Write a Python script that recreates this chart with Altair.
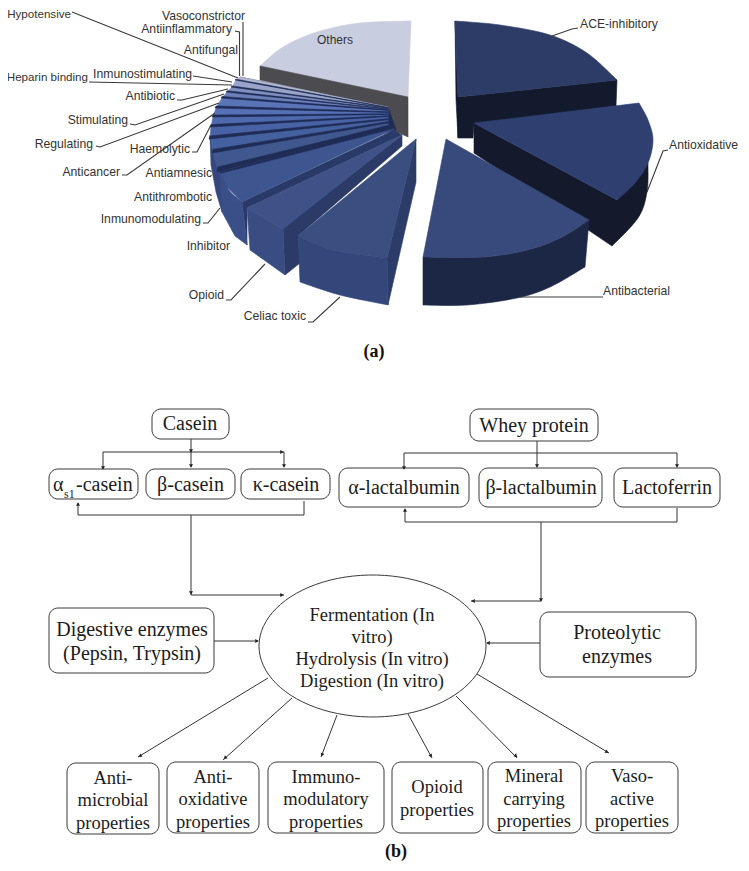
import altair as alt
import numpy as np
import pandas as pd

INK = "#2e2e2e"
SANS = "Liberation Sans"
SERIF = "Liberation Serif"


def curve(*pts, n=8):
    """Smooth a hand-read outline through its points."""
    p = [pts[0]] + list(pts) + [pts[-1]]
    out = []
    for i in range(1, len(p) - 2):
        a, b, c, d = map(np.array, p[i - 1:i + 3])
        for t in np.linspace(0, 1, n, endpoint=False):
            out.append(tuple(0.5 * ((2 * b) + (c - a) * t + (2 * a - 5 * b + 4 * c - d) * t**2 + (3 * b - a - 3 * c + d) * t**3)))
    out.append(pts[-1])
    return out


# ---- pie faces (outline, colour) ----
fan_outer = [(240, 77), (236, 80), (232, 87), (227, 92), (222, 98), (216, 108), (213, 117), (211, 127), (210, 139), (213, 153), (218, 172)]
fan_apex = [107, 107.5, 108, 109, 110, 112, 114, 116, 119, 122, 126]
fan_colors = ["#b3b8cf", "#9aa4c8", "#7f8fc0", "#6b80bb", "#5a74b8", "#5670b6", "#4f69ae", "#4962a6", "#45609f", "#41588f"]
sep_width = [0, 0.8, 1, 1.2, 1.6, 2, 2, 2.4, 3, 3.6, 5]

faces = []
# Others
faces.append((curve((260, 66), (283, 47), (317, 32), (360, 23), (411, 21)) + [(408, 97)], "#c9cde0"))
faces.append(([(260, 66), (408, 97), (408, 137), (391, 129), (388, 108), (260, 80)], "#4b4b50"))
# left wall of the fan
faces.append(([(210, 135), (213, 153), (222, 172), (222, 212), (216, 192), (211, 165)], "#34487f"))
# dark base under the fan
faces.append(([(240, 77), (388, 107), (396, 130), (222, 178), (213, 153), (210, 139)], "#1f2c55"))
# fan wedges
for i in range(len(fan_colors)):
    faces.append(([fan_outer[i], fan_outer[i + 1], (388, fan_apex[i + 1]), (388, fan_apex[i])], fan_colors[i]))
for i in range(1, len(fan_outer)):
    x, y = fan_outer[i]
    w = sep_width[i]
    faces.append(([(x, y - w), (x - 1, y), (388, fan_apex[i] + w * 0.25), (388, fan_apex[i] - w * 0.1)], "#1f2c55"))
# Inhibitor
faces.append(([(242, 202), (394, 130), (402, 135), (247, 208), (247, 245)], "#2a3a68"))
faces.append(([(394, 129), (220, 174), (226, 186), (242, 202)], "#3f5590"))
faces.append((curve((220, 173), (229, 190), (242, 202)) + [(247, 245)] + curve((235, 236), (222, 212)), "#3a4e87"))
# Opioid
faces.append(([(283, 228), (402, 135), (402, 146), (298, 236), (300, 263), (285, 275)], "#2b3a66"))
faces.append(([(402, 135), (247, 208), (283, 229)], "#3e5288"))
faces.append(([(247, 208), (283, 229), (285, 275), (250, 250)], "#3a4d82"))
# Celiac toxic
faces.append(([(387, 258), (416, 139), (416, 182), (388, 305)], "#2c3c68"))
faces.append(([(416, 139), (298, 236)] + curve((298, 236), (333, 250), (387, 258)), "#3a4e80"))
faces.append((curve((298, 236), (333, 250), (387, 258)) + [(388, 305)] + curve((388, 305), (340, 295), (300, 282)), "#34477a"))
# ACE-inhibitory
faces.append(([(455, 21), (458, 97), (458, 138), (456, 100)], "#141a2e"))
faces.append(([(458, 97), (617, 80), (616, 106), (474, 124), (473, 138), (458, 138)], "#131a2e"))
faces.append((curve((455, 21), (500, 25), (550, 35), (587, 53), (617, 80)) + [(458, 97)], "#2d3c66"))
# Antioxidative
faces.append(([(474, 123), (617, 200)] + curve((648, 163), (647, 192), (638, 218), (612, 246)) + [(474, 153)], "#141a2b"))
faces.append(([(474, 123)] + curve((639, 103), (648, 120), (653, 140), (648, 163), (635, 183), (617, 200)), "#2f4070"))
# Antibacterial
faces.append((curve((423, 257), (483, 257), (527, 250), (560, 238), (589, 220)) + curve((585, 267), (550, 287), (517, 298), (467, 305), (423, 305)), "#1c2745"))
faces.append(([(446, 139)] + curve((589, 220), (560, 238), (527, 250), (483, 257), (423, 257)), "#374a7b"))

faces_rows = []
for fid, (pts, col) in enumerate(faces):
    for i, (x, y) in enumerate(pts):
        faces_rows.append({"x": x, "y": y, "i": i, "face": fid, "c": col})
faces_df = pd.DataFrame(faces_rows)

# ---- pie leader lines ----
leaders = [
    [(72, 12), (77, 14), (238, 78)],
    [(243, 22), (243, 76)],
    [(235, 31), (239.5, 32), (239.5, 76)],
    [(89, 82), (232, 85)],
    [(193, 76), (232, 82)],
    [(177, 100), (182, 100), (228, 89)],
    [(130, 124), (135, 125), (224, 94)],
    [(96, 146), (100, 147), (219, 103)],
    [(122, 175), (127, 175), (215, 113)],
    [(192, 152), (197, 152), (211, 125)],
    [(203, 223), (208, 223), (220, 208)],
    [(226, 300), (231, 300), (265, 264)],
    [(308, 322), (313, 322), (340, 297)],
    [(603, 297), (520, 297)],
    [(668, 150), (663, 151), (647, 192)],
    [(578, 28), (572, 29), (552, 36)],
]

# ---- pie labels ----
edge_labels = ["Hypotensive", "Heparin binding"]
edge_labels_x = [71, 88]
edge_labels_y = [15, 78]
labels_right = ["Vasoconstrictor", "Antiinflammatory", "Antifungal",
                "Inmunostimulating", "Antibiotic", "Stimulating", "Regulating", "Haemolytic", "Anticancer",
                "Antiamnesic", "Antithrombotic", "Inmunomodulating", "Inhibitor", "Opioid", "Celiac toxic"]
labels_right_x = [245, 232, 238, 192, 175, 128, 93, 190, 120, 212, 212, 201, 230, 224, 306]
labels_right_y = [16, 29, 50, 74, 96, 120, 144, 149, 172, 173, 197, 219, 246, 295, 316]
labels_left = ["ACE-inhibitory", "Antioxidative", "Antibacterial"]
labels_left_x = [580, 669, 603]
labels_left_y = [24, 145, 291]

# ---- flow diagram ----
box_x = [152, 49, 146, 241, 470, 339, 479, 614, 49, 540, 67, 167, 268, 392, 488, 586]
box_x2 = [229, 138, 235, 330, 598, 469, 602, 720, 214, 696, 159, 259, 384, 483, 581, 678]
box_y = [409, 469, 469, 469, 409, 468, 468, 468, 608, 612, 763, 762, 762, 762, 762, 762]
box_y2 = [439, 499, 499, 499, 441, 507, 507, 507, 673, 677, 834, 833, 833, 833, 833, 833]

big_text = ["Casein", "\u03b2-casein", "\u03ba-casein", "Whey protein", "\u03b1-lactalbumin", "\u03b2-lactalbumin", "Lactoferrin",
            "Digestive enzymes", "(Pepsin, Trypsin)", "Proteolytic", "enzymes"]
big_x = [190, 190.5, 286, 534, 404, 541, 667, 132, 132, 617, 617]
big_y = [424, 485, 485, 426, 488, 488, 488, 630, 654, 633, 657]

small_text = ["Fermentation (In", "vitro)", "Hydrolysis (In vitro)", "Digestion (In vitro)",
              "Anti-", "microbial", "properties", "Anti-", "oxidative", "properties",
              "Immuno-", "modulatory", "properties", "Opioid", "properties",
              "Mineral", "carrying", "properties", "Vaso-", "active", "properties"]
small_x = [372, 372, 372, 372, 113, 113, 113, 213, 213, 213, 326, 326, 326, 437, 437, 534, 534, 534, 632, 632, 632]
small_y = [615, 637, 659, 681, 778, 800, 823, 777, 799, 822, 777, 799, 822, 787, 810, 776, 799, 821, 776, 799, 821]

flow_lines = [
    [(191, 439), (191, 467)], [(103, 469), (103, 452), (284, 452), (284, 467)],
    [(304, 501), (304, 515), (78, 515), (78, 503)], [(191, 515), (191, 595), (284, 595)],
    [(537, 441), (537, 467)], [(404, 469), (404, 453), (677, 453), (677, 467)],
    [(677, 508), (677, 522), (405, 522), (405, 509)], [(541, 522), (541, 601), (471, 601)],
    [(214, 641), (258, 641)], [(540, 643), (487, 643)],
    [(268, 678), (138, 757)], [(292, 698), (223, 760)], [(337, 715), (321, 757)],
    [(408, 714), (432, 758)], [(456, 696), (517, 758)], [(477, 674), (609, 753)],
]
# arrow heads: x, y, heading in degrees clockwise from up
head_x = [191, 191, 103, 284, 282, 78, 191, 282, 537, 404, 677, 405, 541, 473, 257, 488, 140, 225, 322, 431, 516, 607]
head_y = [451, 466, 468, 466, 452, 504, 593, 595, 466, 468, 466, 510, 600, 601, 641, 643, 756, 758, 755, 756, 756, 752]
head_a = [180, 180, 180, 180, 90, 0, 180, 90, 180, 180, 180, 0, 180, 270, 90, 270, 239, 228, 201, 151, 135, 121]

# ellipse outline
t = np.linspace(0, 2 * np.pi, 90, endpoint=False)
ell_df = pd.DataFrame({"x": 372.5 + 113.5 * np.cos(t), "y": 646 + 71 * np.sin(t), "i": np.arange(90)})


def lines_df(lines):
    return pd.DataFrame([{"x": x, "y": y, "i": i, "k": k} for k, ln in enumerate(lines) for i, (x, y) in enumerate(ln)])


X = alt.X("x:Q", scale=alt.Scale(domain=[8, 741], nice=False, zero=False), axis=None)
Y = alt.Y("y:Q", scale=alt.Scale(domain=[863, 8], nice=False, zero=False), axis=None)

poly = alt.Chart(faces_df).mark_line(interpolate="linear-closed", strokeWidth=0.6, clip=True).encode(
    x=X, y=Y, order="i:Q", detail="face:N",
    fill=alt.Fill("c:N", scale=None), stroke=alt.Stroke("c:N", scale=None))


def stroke_layer(lines, color=INK, width=1.0):
    return alt.Chart(lines_df(lines)).mark_line(color=color, strokeWidth=width, clip=True).encode(
        x=X, y=Y, order="i:Q", detail="k:N")


def text_layer(text, xs, ys, size, font=SERIF, align="center", color="#1c1c1c", weight="normal"):
    df = pd.DataFrame({"t": text, "x": xs, "y": ys})
    return alt.Chart(df).mark_text(font=font, fontSize=size, align=align, baseline="middle",
                                   color=color, fontWeight=weight).encode(x=X, y=Y, text="t:N")


boxes = alt.Chart(pd.DataFrame({"x": box_x, "x2": box_x2, "y": box_y, "y2": box_y2})).mark_rect(
    fill="white", stroke="#3a3a3a", strokeWidth=1, cornerRadius=9).encode(x=X, x2="x2:Q", y=Y, y2="y2:Q")

ellipse = alt.Chart(ell_df).mark_line(interpolate="linear-closed", color="#3a3a3a", strokeWidth=1).encode(x=X, y=Y, order="i:Q")

heads = alt.Chart(pd.DataFrame({"x": head_x, "y": head_y, "a": head_a})).mark_point(
    shape="triangle-up", filled=True, size=16, color="#222222", opacity=1).encode(
    x=X, y=Y, angle=alt.Angle("a:Q", scale=None))

chart = alt.layer(
    poly,
    stroke_layer(leaders, "#3a3a3a", 1.1),
    text_layer(edge_labels, edge_labels_x, edge_labels_y, 11.6, SANS, "right", "#333333"),
    text_layer(labels_right, labels_right_x, labels_right_y, 12.2, SANS, "right", "#333333"),
    text_layer(labels_left, labels_left_x, labels_left_y, 12.2, SANS, "left", "#333333"),
    text_layer(["Others"], [335], [40], 12, SANS, "center", "#333333"),
    text_layer(["(a)"], [374], [352], 18, SERIF, "center", "#111111", "bold"),
    text_layer(["(b)"], [396], [852], 18, SERIF, "center", "#111111", "bold"),
    boxes,
    ellipse,
    stroke_layer(flow_lines, "#333333", 1.0),
    heads,
    text_layer(big_text, big_x, big_y, 20),
    text_layer(small_text, small_x, small_y, 18.5),
    text_layer(["\u03b1"], [53], [485], 20, SERIF, "left"),
    text_layer(["s1"], [64], [494], 12, SERIF, "left"),
    text_layer(["-casein"], [76], [485], 20, SERIF, "left"),
).properties(width=733, height=855, padding=0, autosize=alt.AutoSizeParams(type="none")).configure_view(stroke=None)

chart.save("out.html", embed_options={"renderer": "svg", "actions": False})
